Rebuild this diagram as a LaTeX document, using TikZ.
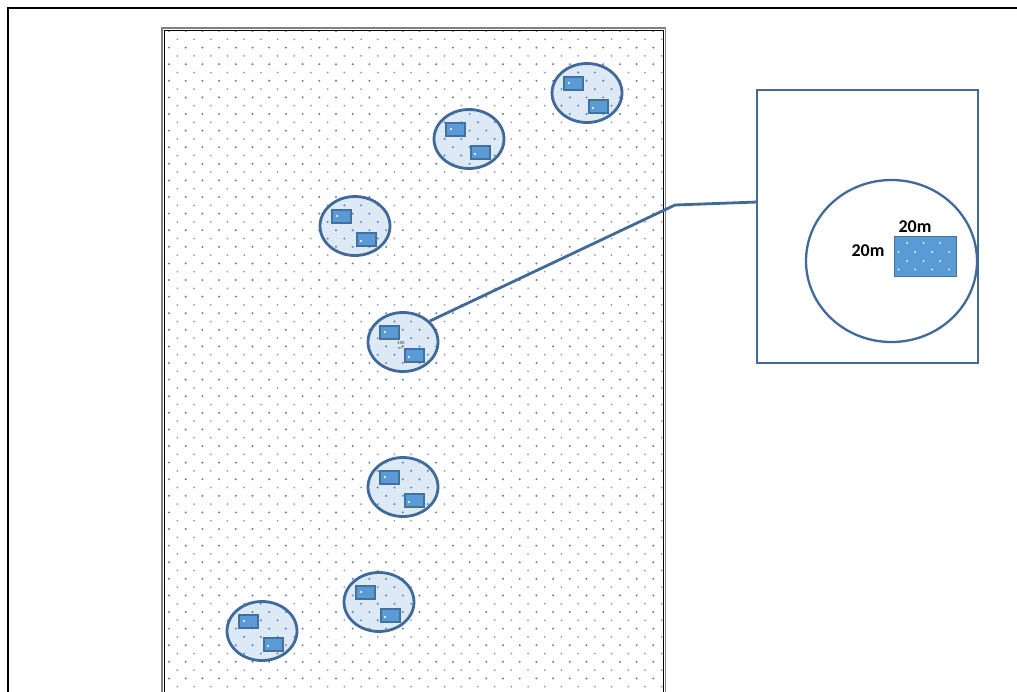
\documentclass[tikz,border=0pt]{standalone}
\usepackage{fontspec}
\newfontfamily\calib{Carlito}
\usetikzlibrary{shapes.geometric}
\definecolor{edgeblue}{HTML}{41699A}
\definecolor{rectfill}{HTML}{5B9BD5}
\definecolor{rectedge}{HTML}{41719C}
\definecolor{ellfill}{HTML}{DEE9F6}
\definecolor{dotdark}{HTML}{6879A6}
\definecolor{dotlight}{HTML}{8D9CC0}
\definecolor{dotblue}{HTML}{4F88CF}
\tikzset{
  site/.style={ellipse, draw=edgeblue, fill=ellfill, line width=2.8pt, inner sep=0pt, minimum width=70, minimum height=59},
  plot/.style={draw=rectedge, fill=rectfill, line width=1.3pt},
  conn/.style={draw=edgeblue, line width=2.8pt},
  wdot/.style={fill=white},
  lbl/.style={font=\calib\bfseries\fontsize{18}{21}\selectfont, inner sep=0pt}
}
\begin{document}
\begin{tikzpicture}[x=1pt,y=-1pt]
\useasboundingbox (0,0) rectangle (1017,691);
\clip (0,0) rectangle (1017,691);
% outer frame
\draw[line width=2.8pt] (8,720) |- (1040,8);
% field with dot pattern
\fill[white] (163,29) rectangle (664,720);
\begin{scope}
\clip (164,30) rectangle (663,720);
\foreach \r in {0,2,...,82}{
  \foreach \c in {0,...,29}{
    \fill[dotdark] ({169+16.7*\c},{31+8.3*\r}) circle (1.1);
  }
}
\foreach \r in {1,3,...,81}{
  \foreach \c in {0,...,29}{
    \fill[dotlight] ({177.35+16.7*\c},{31+8.3*\r}) circle (1.0);
  }
}
\end{scope}
\draw[gray, line width=1.3pt] (162,720) |- (665.5,28) -- (665.5,720);
\draw[black, line width=1pt] (164.3,720) |- (663.2,30.3) -- (663.2,720);
% sites
\foreach \cx/\cy [count=\n] in {587/93, 469/139, 355/226, 403/342, 403/487, 379/602, 262/631}{
  \node[site] (e\n) at (\cx,\cy) {};
  \begin{scope}
    \clip (\cx,\cy) ellipse [x radius=33.6, y radius=28];
    \pgfmathtruncatemacro\ra{(\cy-31-34)/8.3}
    \pgfmathtruncatemacro\rb{\ra+9}
    \pgfmathtruncatemacro\ca{(\cx-169-42)/16.7}
    \pgfmathtruncatemacro\cb{\ca+6}
    \foreach \r in {\ra,...,\rb}{
      \pgfmathsetmacro\off{mod(\r,2)*8.35}
      \foreach \c in {\ca,...,\cb}{
        \fill[dotblue] ({169+\off+16.7*\c},{31+8.3*\r}) circle (1.1);
      }
    }
  \end{scope}
  \draw[plot] (\cx-23,\cy-16) rectangle (\cx-4,\cy-3);
  \draw[plot] (\cx+2,\cy+7) rectangle (\cx+21,\cy+20);
  \fill[wdot] (\cx-18,\cy-10) circle (1.2);
  \fill[wdot] (\cx+6,\cy+15) circle (1.2);
}
\node[font=\sffamily\fontsize{4.5}{5}\selectfont, text=black!80, align=center, inner sep=0pt] (area) at (401,345) {400\\m\textsuperscript{2}};
% inset
\node[draw=edgeblue, fill=white, line width=2.3pt, minimum width=221, minimum height=273, inner sep=0pt] (inset) at (867.5,226.5) {};
\node[ellipse, draw=edgeblue, fill=white, line width=2.3pt, minimum width=171, minimum height=162, inner sep=0pt] (zoomsite) at (891.5,261) {};
\node[draw=rectedge, fill=rectfill, line width=1.3pt, minimum width=62, minimum height=40, inner sep=0pt] (zoomplot) at (925.5,256.5) {};
\foreach \x in {907,923.5,940}{
  \fill[wdot] (\x,243) circle (1);
  \fill[wdot] (\x,261) circle (1);
}
\foreach \x in {898.5,915,932,949}{
  \fill[wdot] (\x,252) circle (1);
  \fill[wdot] (\x,269.5) circle (1);
}
\node[lbl] (wlabel) at (915,226.5) {20m};
\node[lbl] (hlabel) at (868,250.5) {20m};
% connector
\coordinate (bend) at (675,205);
\coordinate (inend) at (757,202);
\draw[conn] (e4.38) -- (bend) -- (inend);
\end{tikzpicture}
\end{document}
